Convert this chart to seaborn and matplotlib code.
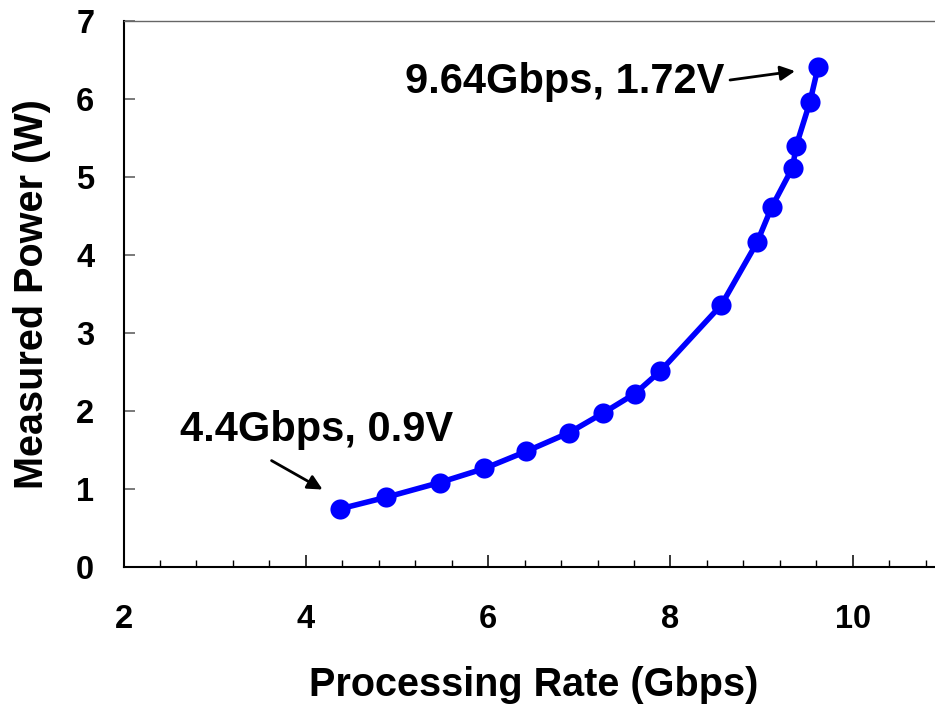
import numpy as np
import pandas as pd
import matplotlib
matplotlib.use("Agg")
import matplotlib.pyplot as plt
import seaborn as sns
from matplotlib.ticker import MultipleLocator

# ---- data ----
rate_gbps = [4.37, 4.88, 5.47, 5.96, 6.42, 6.89, 7.26, 7.61, 7.89,
             8.56, 8.95, 9.11, 9.34, 9.38, 9.53, 9.62]
power_w = [0.74, 0.89, 1.08, 1.26, 1.48, 1.72, 1.97, 2.22, 2.51,
           3.36, 4.16, 4.61, 5.12, 5.40, 5.96, 6.41]
x_ticks = [2, 4, 6, 8, 10]
y_ticks = [0, 1, 2, 3, 4, 5, 6, 7]
label_hi = "9.64Gbps, 1.72V"
label_lo = "4.4Gbps, 0.9V"

df = pd.DataFrame({"rate": rate_gbps, "power": power_w})

sns.set_theme(style="white")
plt.rcParams["font.family"] = ["Liberation Sans", "DejaVu Sans"]
plt.rcParams["font.weight"] = "bold"
for key in ["text.color", "axes.labelcolor", "xtick.labelcolor", "ytick.labelcolor"]:
    plt.rcParams[key] = "black"

fig = plt.figure(figsize=(9.35, 7.09), dpi=100)
ax = fig.add_axes([123.5 / 935, 1 - 566.7 / 709, 820.4 / 935, (566.7 - 21) / 709])

sns.lineplot(data=df, x="rate", y="power", ax=ax, color="#0000FF",
             linewidth=4.0, marker="o", markersize=14.5,
             markeredgewidth=0, sort=False)

ax.set_xlim(2, 11)
ax.set_ylim(0, 7)
ax.set_xticks(x_ticks)
ax.set_yticks(y_ticks)
ax.xaxis.set_minor_locator(MultipleLocator(0.4))
ax.tick_params(axis="x", which="major", direction="in", length=9, width=1.1,
               color="black", labelcolor="black", labelsize=23.5, pad=27, bottom=True)
ax.tick_params(axis="x", which="minor", direction="in", length=5, width=1.0,
               color="black", bottom=True)
ax.tick_params(axis="y", which="major", direction="in", length=8, width=1.1,
               color="#555555", labelcolor="black", labelsize=23.5, pad=21, left=True)
for lab in ax.get_xticklabels() + ax.get_yticklabels():
    lab.set_fontweight("bold")

for side in ["left", "bottom"]:
    ax.spines[side].set_color("black")
    ax.spines[side].set_linewidth(1.5)
ax.spines["top"].set_color("#666666")
ax.spines["top"].set_linewidth(1.0)
ax.spines["right"].set_color("#666666")

ax.set_xlabel("Processing Rate (Gbps)", fontsize=28.5, fontweight="bold",
              labelpad=22, color="black")
ax.set_ylabel("Measured Power (W)", fontsize=28.5, fontweight="bold",
              labelpad=18, color="black")

# annotations
ax.text(8.594, 6.076, label_hi, fontsize=30, fontweight="bold",
        ha="right", va="baseline", color="black")
ax.annotate("", xy=(9.367, 6.357), xytext=(8.654, 6.243),
            arrowprops=dict(arrowstyle="-|>", color="black", lw=2,
                            mutation_scale=22, shrinkA=0, shrinkB=0))
ax.text(2.62, 1.613, label_lo, fontsize=30, fontweight="bold",
        ha="left", va="baseline", color="black")
ax.annotate("", xy=(4.184, 0.990), xytext=(3.624, 1.361),
            arrowprops=dict(arrowstyle="-|>", color="black", lw=2,
                            mutation_scale=22, shrinkA=0, shrinkB=0))

fig.savefig("out.png", dpi=100)
